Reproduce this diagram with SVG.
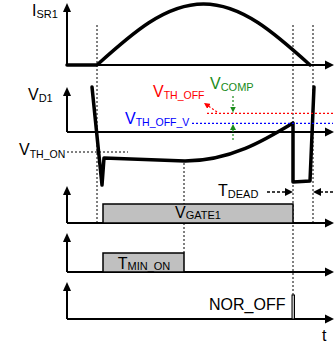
<svg xmlns="http://www.w3.org/2000/svg" width="334" height="351" viewBox="0 0 334 351">
<defs>
<style>
.ax{stroke:#000;stroke-width:2;fill:none}
.wave{stroke:#000;stroke-width:3.5;fill:none;stroke-linejoin:round;stroke-linecap:round}
.dot{stroke:#000;stroke-width:1;stroke-dasharray:2,2;fill:none}
.box{fill:#c0c0c0;stroke:#000;stroke-width:1.5}
text{font-family:"Liberation Sans",Arial,sans-serif;font-size:16px;fill:#000}
.sub{font-size:11px}
</style>
<marker id="ah" markerWidth="8" markerHeight="8" refX="7" refY="4" orient="auto" markerUnits="userSpaceOnUse">
<path d="M0,0 L8,4 L0,8 z" fill="#000"/>
</marker>
<marker id="ahg" markerWidth="6" markerHeight="6" refX="6" refY="3" orient="auto" markerUnits="userSpaceOnUse">
<path d="M0,0 L6,3 L0,6 z" fill="#1a8c1a"/>
</marker>
<marker id="ahr" markerWidth="6" markerHeight="6" refX="6" refY="3" orient="auto" markerUnits="userSpaceOnUse">
<path d="M0,0 L6,3 L0,6 z" fill="#ff0000"/>
</marker>
</defs>

<g id="axes">
<path class="ax" d="M67,65 V6"/><path d="M63,12 L67,3 L71,12 z"/>
<path class="ax" d="M67,65 H328"/><path d="M325,60.5 L334,65 L325,69.5 z"/>
<path class="ax" d="M67,132 V90"/><path d="M63,96 L67,87 L71,96 z"/>
<path class="ax" d="M67,132 H328"/><path d="M325,127.5 L334,132 L325,136.5 z"/>
<path class="ax" d="M67,223 V189"/><path d="M63,195 L67,186 L71,195 z"/>
<path class="ax" d="M67,223 H328"/><path d="M325,218.5 L334,223 L325,227.5 z"/>
<path class="ax" d="M67,272 V236"/><path d="M63,242 L67,233 L71,242 z"/>
<path class="ax" d="M67,272 H328"/><path d="M325,267.5 L334,272 L325,276.5 z"/>
<path class="ax" d="M67,319 V285"/><path d="M63,291 L67,282 L71,291 z"/>
<path class="ax" d="M67,319 H328"/><path d="M325,314.5 L334,319 L325,323.5 z"/>
</g>

<g id="guides">
<path class="dot" d="M97,25 V223"/>
<path class="dot" d="M293,25 V295"/>
<path class="dot" d="M313,25 V223"/>
<path class="dot" d="M184,163 V253"/>
<path class="dot" d="M67,152 H128"/>
</g>

<g id="isr1">
<path class="wave" d="M67,65 H97 C131.7,33.7 165,4 203.5,4 C242,4 275.3,33.7 310,65"/>
<text x="32" y="16">I<tspan class="sub" dy="2">SR1</tspan></text>
</g>

<g id="vd1">
<path class="wave" d="M92,87 L102,185 L104,158 L185,161 C230,161 265,140 293,123 L293,182 L310,181 L314,87"/>
<text x="28" y="100">V<tspan class="sub" dy="2">D1</tspan></text>
<text x="19" y="155">V<tspan class="sub" dy="3" style="font-size:10.5px">TH_ON</tspan></text>
</g>

<g id="thresholds">
<path d="M207,113.3 H333" stroke="#ff0000" stroke-width="1.2" stroke-dasharray="2,2"/>
<path d="M192,123.3 H333" stroke="#0000ff" stroke-width="1.2" stroke-dasharray="2,2"/>
<path d="M217,112 L204,103" stroke="#ff0000" stroke-width="1.2" stroke-dasharray="2,2" marker-end="url(#ahr)"/>
<path d="M233,96 V112.5" stroke="#1a8c1a" stroke-width="1.2" stroke-dasharray="2,2" marker-end="url(#ahg)"/>
<path d="M233,140 V124" stroke="#1a8c1a" stroke-width="1.2" stroke-dasharray="2,2" marker-end="url(#ahg)"/>
<text x="153" y="97" style="fill:#ff0000">V<tspan class="sub" dy="2" style="font-size:10.5px">TH_OFF</tspan></text>
<text x="125" y="124" style="fill:#0000ff">V<tspan class="sub" dy="2" style="font-size:10.5px">TH_OFF_V</tspan></text>
<text x="210" y="89" style="fill:#1a8c1a">V<tspan class="sub" dy="2">COMP</tspan></text>
</g>

<g id="vgate1">
<rect class="box" x="103" y="204" width="190" height="19"/>
<text x="198" y="218" text-anchor="middle">V<tspan class="sub" dy="1">GATE1</tspan></text>
</g>

<g id="tdead">
<path d="M267,192 H292" stroke="#000" stroke-width="1.5" stroke-dasharray="3,2" marker-end="url(#ah)"/>
<path d="M333,192 H314" stroke="#000" stroke-width="1.5" stroke-dasharray="3,2" marker-end="url(#ah)"/>
<text x="218" y="196">T<tspan class="sub" dy="2">DEAD</tspan></text>
</g>

<g id="tminon">
<rect class="box" x="103" y="253" width="81" height="19"/>
<text x="144" y="269" text-anchor="middle">T<tspan class="sub" dy="1">MIN_ON</tspan></text>
</g>

<g id="noroff">
<rect class="box" x="292" y="295" width="2.5" height="24" style="stroke-width:1"/>
<text x="209" y="310">NOR_OFF</text>
<text x="322" y="341">t</text>
</g>
</svg>
